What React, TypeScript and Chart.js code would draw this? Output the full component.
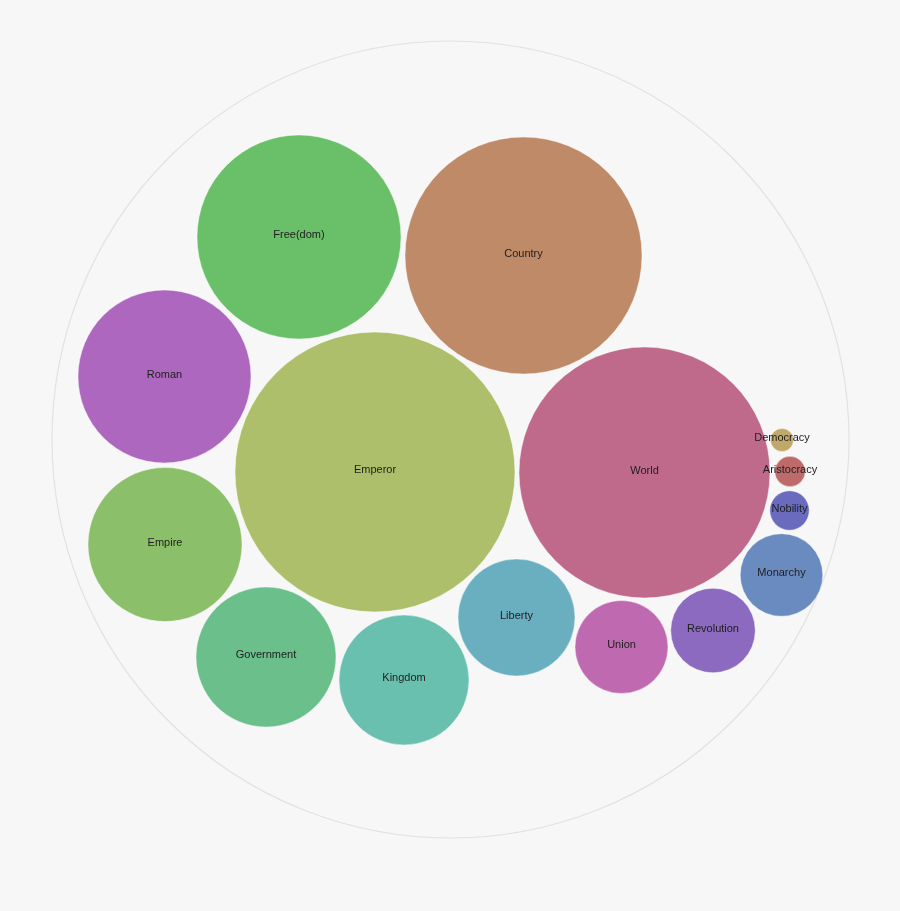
import React, { useEffect, useRef } from "react";
import { Chart, registerables } from "chart.js";

Chart.register(...registerables);

// Packed-bubble layout: each word has a centre (x, y) and a radius r.
const words = [
  "Free(dom)", "Country", "Roman", "Emperor", "World", "Empire", "Government",
  "Kingdom", "Liberty", "Union", "Revolution", "Monarchy", "Nobility",
  "Aristocracy", "Democracy",
];
const xs = [299, 523.5, 164.5, 375, 644.5, 165, 266, 404, 516.5, 621.5, 713, 781.5, 789.5, 790, 782];
const ys = [237, 255.5, 376.5, 472, 472.5, 544.5, 657, 680, 617.5, 647, 630.5, 575, 510.5, 471.5, 440];
const radii = [102, 118.5, 86.5, 140, 125.5, 77, 70, 65, 58.5, 46.5, 42.3, 41.3, 19.7, 15.2, 11.5];
const colors = [
  "#6abf69", "#bf8a67", "#ae67bf", "#adbf6a", "#bf6a8a", "#8bbf6a", "#6abf8a",
  "#6ac0ae", "#6aafbf", "#bf6ab0", "#8b6abf", "#6a8bbf", "#6a6abf", "#bf6a6a", "#bfa86a",
];

// Enclosing circle
const outerX = 450.5;
const outerY = 439.5;
const outerR = 398.5;

const backdrop = {
  id: "backdrop",
  beforeDraw(chart: any) {
    const { ctx, width, height, scales } = chart;
    ctx.save();
    ctx.fillStyle = "#f7f7f7";
    ctx.fillRect(0, 0, width, height);
    const cx = scales.x.getPixelForValue(outerX);
    const cy = scales.y.getPixelForValue(outerY);
    const r = scales.x.getPixelForValue(outerX + outerR) - cx;
    ctx.beginPath();
    ctx.arc(cx, cy, r, 0, Math.PI * 2);
    ctx.strokeStyle = "#e2e2e2";
    ctx.lineWidth = 1.2;
    ctx.stroke();
    ctx.restore();
  },
};

const wordLabels = {
  id: "wordLabels",
  afterDatasetsDraw(chart: any) {
    const { ctx } = chart;
    const meta = chart.getDatasetMeta(0);
    ctx.save();
    ctx.font = '11px "Liberation Sans", Arial, sans-serif';
    ctx.fillStyle = "#1e1e1e";
    ctx.textAlign = "center";
    ctx.textBaseline = "middle";
    meta.data.forEach((el: any, i: number) => {
      ctx.fillText(words[i], el.x, el.y - 2);
    });
    ctx.restore();
  },
};

export default function App() {
  const canvasRef = useRef<HTMLCanvasElement | null>(null);

  useEffect(() => {
    document.body.style.margin = "0";
    const canvas = canvasRef.current;
    if (!canvas) return;
    const chart = new Chart(canvas, {
      type: "bubble",
      data: {
        datasets: [
          {
            label: "Words",
            data: words.map((_, i) => ({ x: xs[i], y: ys[i], r: radii[i] })),
            backgroundColor: colors,
            borderColor: "rgba(255,255,255,0.45)",
            borderWidth: 1,
            hoverRadius: 0,
            clip: false,
          },
        ],
      },
      options: {
        animation: false,
        responsive: false,
        maintainAspectRatio: false,
        layout: { padding: 0, autoPadding: false },
        scales: {
          x: { type: "linear", min: 0, max: 900, display: false },
          y: { type: "linear", min: 0, max: 911, reverse: true, display: false },
        },
        plugins: {
          legend: { display: false },
          tooltip: { enabled: false },
        },
        events: [],
      },
      plugins: [backdrop, wordLabels],
    });
    return () => chart.destroy();
  }, []);

  return (
    <div style={{ width: 900, height: 911 }}>
      <canvas ref={canvasRef} width={900} height={911} style={{ display: "block" }} />
    </div>
  );
}
